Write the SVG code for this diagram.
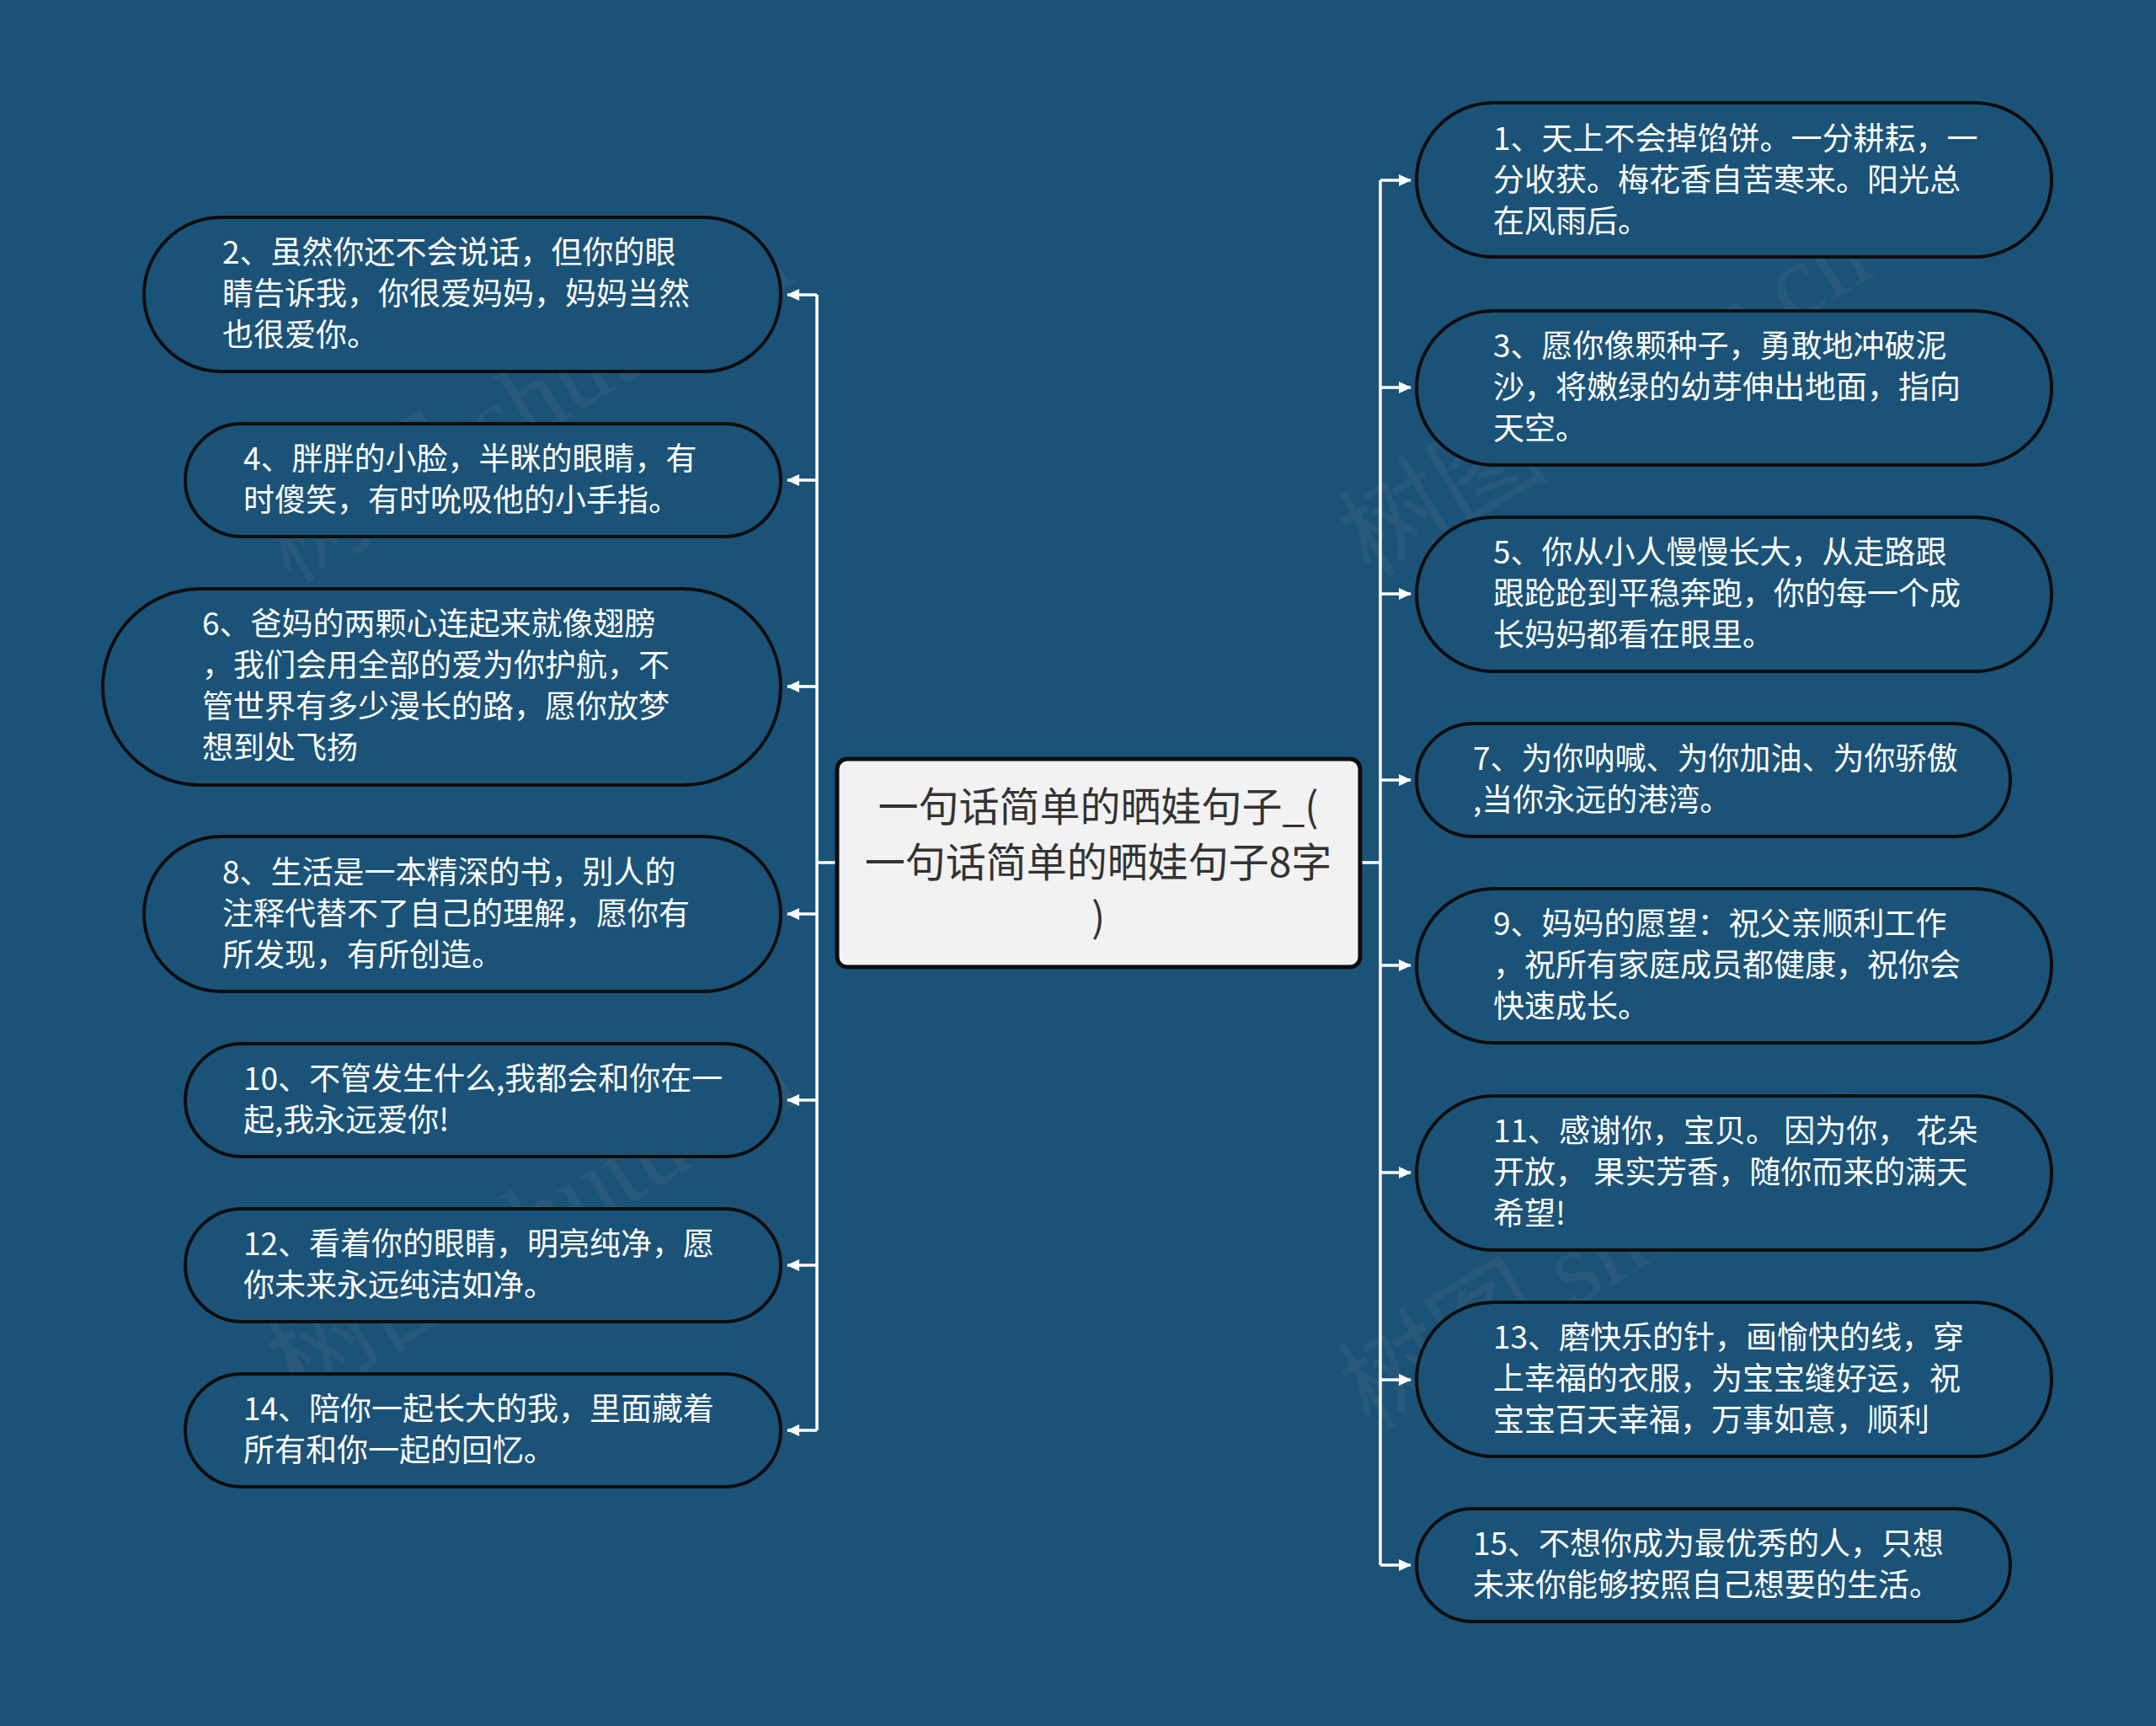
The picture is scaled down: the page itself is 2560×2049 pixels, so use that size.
<svg xmlns="http://www.w3.org/2000/svg" width="2560" height="2049" viewBox="0 0 2560 2049">
<defs>
<style>
.bg{fill:#1b5378}
.node rect{fill:#1b5378;stroke:#0d0d0d;stroke-width:4}
.node text{font-family:"Noto Sans CJK SC","Noto Sans",sans-serif;font-size:37px;fill:#ffffff}
.center rect{fill:#f2f2f2;stroke:#0d0d0d;stroke-width:5}
.center text{font-family:"Noto Sans CJK SC","Noto Sans",sans-serif;font-size:48px;fill:#333333}
.conn path{fill:none;stroke:#ffffff;stroke-width:3.5}
.wm{font-family:"Liberation Serif","Noto Sans CJK SC",serif;font-size:125px;fill:#8a8a8a;opacity:0.12}
</style>
<marker id="arr" markerUnits="userSpaceOnUse" markerWidth="16" markerHeight="16" refX="14" refY="8" orient="auto">
<path d="M0,1 L15,8 L0,15 Z" fill="#ffffff"/>
</marker>
</defs>
<rect class="bg" x="0" y="0" width="2560" height="2049"/>

<g id="watermarks">
<text class="wm" transform="translate(645,514) rotate(-31)" text-anchor="middle">树图 shutu.cn</text>
<text class="wm" transform="translate(1927,506) rotate(-31)" text-anchor="middle">树图 shutu.cn</text>
<text class="wm" transform="translate(653,1486) rotate(-31)" text-anchor="middle">树图 shutu.cn</text>
<text class="wm" transform="translate(1927,1518) rotate(-31)" text-anchor="middle">树图 shutu.cn</text>
</g>

<g id="connectors" class="conn">
<path d="M994,1024 H970"/>
<path d="M970,350 V1698"/>
<path d="M970,350 H935" marker-end="url(#arr)"/>
<path d="M970,570 H935" marker-end="url(#arr)"/>
<path d="M970,815 H935" marker-end="url(#arr)"/>
<path d="M970,1085 H935" marker-end="url(#arr)"/>
<path d="M970,1306 H935" marker-end="url(#arr)"/>
<path d="M970,1502 H935" marker-end="url(#arr)"/>
<path d="M970,1698 H935" marker-end="url(#arr)"/>
<path d="M1615,1024 H1639"/>
<path d="M1639,214 V1858"/>
<path d="M1639,214 H1675" marker-end="url(#arr)"/>
<path d="M1639,460 H1675" marker-end="url(#arr)"/>
<path d="M1639,705 H1675" marker-end="url(#arr)"/>
<path d="M1639,926 H1675" marker-end="url(#arr)"/>
<path d="M1639,1146 H1675" marker-end="url(#arr)"/>
<path d="M1639,1392 H1675" marker-end="url(#arr)"/>
<path d="M1639,1638 H1675" marker-end="url(#arr)"/>
<path d="M1639,1858 H1675" marker-end="url(#arr)"/>
</g>

<g id="center" class="center">
<rect x="994" y="901" width="621" height="247" rx="12"/>
<text x="1304" y="975" text-anchor="middle">一句话简单的晒娃句子_(</text>
<text x="1304" y="1041" text-anchor="middle">一句话简单的晒娃句子8字</text>
<text x="1304" y="1106" text-anchor="middle">)</text>
</g>

<g id="n2" class="node">
<rect x="171" y="258" width="756" height="183" rx="91.5"/>
<text x="264" y="313">2、虽然你还不会说话，但你的眼</text>
<text x="264" y="362">睛告诉我，你很爱妈妈，妈妈当然</text>
<text x="264" y="411">也很爱你。</text>
</g>

<g id="n4" class="node">
<rect x="220" y="503" width="707" height="134" rx="67"/>
<text x="289" y="558">4、胖胖的小脸，半眯的眼睛，有</text>
<text x="289" y="607">时傻笑，有时吮吸他的小手指。</text>
</g>

<g id="n6" class="node">
<rect x="122" y="699" width="805" height="233" rx="116.5"/>
<text x="240" y="754">6、爸妈的两颗心连起来就像翅膀</text>
<text x="240" y="803">，我们会用全部的爱为你护航，不</text>
<text x="240" y="852">管世界有多少漫长的路，愿你放梦</text>
<text x="240" y="901">想到处飞扬</text>
</g>

<g id="n8" class="node">
<rect x="171" y="993" width="756" height="184" rx="92"/>
<text x="264" y="1049">8、生活是一本精深的书，别人的</text>
<text x="264" y="1098">注释代替不了自己的理解，愿你有</text>
<text x="264" y="1147">所发现，有所创造。</text>
</g>

<g id="n10" class="node">
<rect x="220" y="1239" width="707" height="134" rx="67"/>
<text x="289" y="1294">10、不管发生什么,我都会和你在一</text>
<text x="289" y="1343">起,我永远爱你!</text>
</g>

<g id="n12" class="node">
<rect x="220" y="1435" width="707" height="134" rx="67"/>
<text x="289" y="1490">12、看着你的眼睛，明亮纯净，愿</text>
<text x="289" y="1539">你未来永远纯洁如净。</text>
</g>

<g id="n14" class="node">
<rect x="220" y="1631" width="707" height="134" rx="67"/>
<text x="289" y="1686">14、陪你一起长大的我，里面藏着</text>
<text x="289" y="1735">所有和你一起的回忆。</text>
</g>

<g id="n1" class="node">
<rect x="1682" y="122" width="754" height="183" rx="91.5"/>
<text x="1773" y="178">1、天上不会掉馅饼。一分耕耘，一</text>
<text x="1773" y="227">分收获。梅花香自苦寒来。阳光总</text>
<text x="1773" y="276">在风雨后。</text>
</g>

<g id="n3" class="node">
<rect x="1682" y="369" width="754" height="183" rx="91.5"/>
<text x="1773" y="424">3、愿你像颗种子，勇敢地冲破泥</text>
<text x="1773" y="473">沙，将嫩绿的幼芽伸出地面，指向</text>
<text x="1773" y="522">天空。</text>
</g>

<g id="n5" class="node">
<rect x="1682" y="614" width="754" height="183" rx="91.5"/>
<text x="1773" y="669">5、你从小人慢慢长大，从走路跟</text>
<text x="1773" y="718">跟跄跄到平稳奔跑，你的每一个成</text>
<text x="1773" y="767">长妈妈都看在眼里。</text>
</g>

<g id="n7" class="node">
<rect x="1682" y="859" width="705" height="134" rx="67"/>
<text x="1749" y="914">7、为你呐喊、为你加油、为你骄傲</text>
<text x="1749" y="963">,当你永远的港湾。</text>
</g>

<g id="n9" class="node">
<rect x="1682" y="1055" width="754" height="183" rx="91.5"/>
<text x="1773" y="1110">9、妈妈的愿望：祝父亲顺利工作</text>
<text x="1773" y="1159">，祝所有家庭成员都健康，祝你会</text>
<text x="1773" y="1208">快速成长。</text>
</g>

<g id="n11" class="node">
<rect x="1682" y="1301" width="754" height="183" rx="91.5"/>
<text x="1773" y="1356">11、感谢你，宝贝。 因为你， 花朵</text>
<text x="1773" y="1405">开放， 果实芳香，随你而来的满天</text>
<text x="1773" y="1454">希望!</text>
</g>

<g id="n13" class="node">
<rect x="1682" y="1546" width="754" height="183" rx="91.5"/>
<text x="1773" y="1601">13、磨快乐的针，画愉快的线，穿</text>
<text x="1773" y="1650">上幸福的衣服，为宝宝缝好运，祝</text>
<text x="1773" y="1699">宝宝百天幸福，万事如意，顺利</text>
</g>

<g id="n15" class="node">
<rect x="1682" y="1791" width="705" height="134" rx="67"/>
<text x="1749" y="1846">15、不想你成为最优秀的人，只想</text>
<text x="1749" y="1895">未来你能够按照自己想要的生活。</text>
</g>
</svg>
